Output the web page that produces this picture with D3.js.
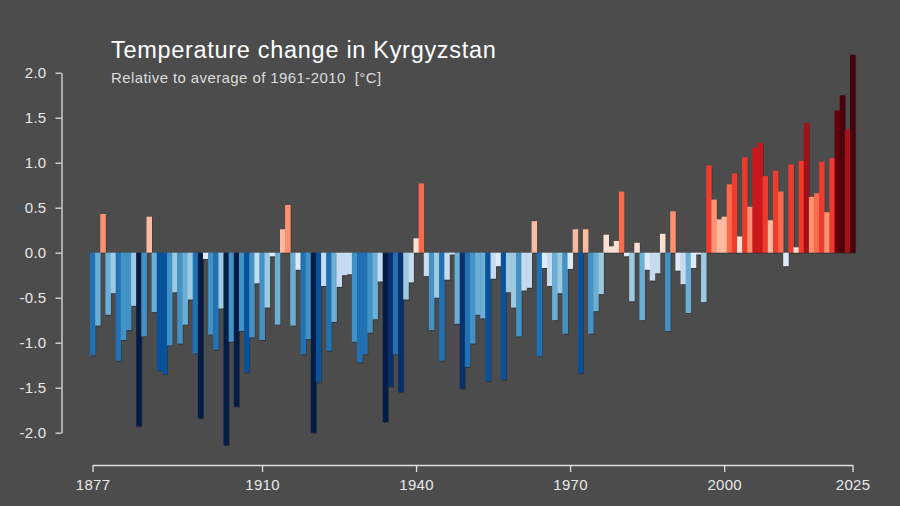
<!DOCTYPE html>
<html>
<head>
<meta charset="utf-8">
<script src="https://cdn.jsdelivr.net/npm/d3@7"></script>
<style>
    body { margin: 0; background: #4c4c4c; }
    svg { display: block; }
    .axis path, .axis line { stroke: #e0e0e0; stroke-width: 1.3; }
    .axis text { fill: #e8e8e8; font-family: "Liberation Sans", Arial, sans-serif; font-size: 15px; letter-spacing: .3px; }
</style>
</head>
<body>
<div class="panel"></div>
<script>

const title = "Temperature change in Kyrgyzstan";
const subtitle = "Relative to average of 1961-2010  [°C]";

const firstYear = 1877;
const lastYear = 2025;
const years = d3.range(firstYear, lastYear + 1);

// anomalies, one per year from 1877
const anomalies = [
    -1.14, -0.81, 0.43, -0.69, -0.45, -1.20, -0.97, -0.86, -0.59, -1.93,
    -0.93, 0.40, -0.66, -1.31, -1.35, -1.03, -0.44, -1.01, -0.80, -0.52,
    -1.12, -1.84, -0.07, -0.91, -1.08, -0.62, -2.14, -0.99, -1.71, -0.87,
    -1.33, -0.94, -0.34, -0.97, -0.61, -0.04, -0.80, 0.26, 0.53, -0.81,
    -0.19, -1.13, -0.96, -2.00, -1.44, -0.37, -1.09, -0.77, -0.38, -0.25,
    -0.24, -0.99, -1.22, -1.13, -0.89, -0.74, -0.32, -1.88, -1.49, -1.13,
    -1.55, -0.52, -0.33, 0.16, 0.77, -0.26, -0.86, -0.50, -1.20, -0.30,
    -0.02, -0.79, -1.51, -1.27, -1.01, -0.69, -0.73, -1.43, -0.29, -0.15,
    -1.41, -0.44, -0.61, -0.93, -0.42, -0.39, 0.35, -1.15, -0.17, -0.37,
    -0.75, -0.45, -0.90, -0.18, 0.26, -1.34, 0.26, -0.90, -0.65, -0.46,
    0.20, 0.07, 0.13, 0.68, -0.04, -0.54, 0.11, -0.75, -0.19, -0.31,
    -0.23, 0.21, -0.87, 0.46, -0.20, -0.35, -0.67, -0.17, -0.02, -0.55,
    0.97, 0.59, 0.37, 0.40, 0.76, 0.88, 0.18, 1.06, 0.51, 1.17,
    1.22, 0.85, 0.36, 0.91, 0.68, -0.15, 0.98, 0.06, 1.02, 1.44,
    0.62, 0.66, 1.01, 0.45, 1.05, 1.58, 1.75, 1.37, 2.20
];

const yTicks = [-2.0, -1.5, -1.0, -0.5, 0.0, 0.5, 1.0, 1.5, 2.0];
const xTicks = [1877, 1910, 1940, 1970, 2000, 2025];

const stripeColors = [
    "#041d47", "#08306b", "#08519c", "#2171b5", "#4292c6", "#6baed6", "#9ecae1", "#c6dbef", "#deebf7",
    "#fee0d2", "#fcbba1", "#fc9272", "#fb6a4a", "#ef3b2c", "#cb181d", "#a50f15", "#67000d", "#48000a"
];
const stripeBreaks = [-1.7, -1.4875, -1.275, -1.0625, -0.85, -0.6375, -0.425, -0.2125, 0,
    0.2125, 0.425, 0.6375, 0.85, 1.0625, 1.275, 1.4875, 1.7];

const dim = { width: 900, height: 506 };

const data = years.map((t, i) => ({ t: t, v: anomalies[i] }));

const svg = d3.select(".panel").append("svg")
    .attr("width", dim.width)
    .attr("height", dim.height)
    .attr("viewBox", [0, 0, dim.width, dim.height]);

svg.append("rect")
    .attr("width", dim.width)
    .attr("height", dim.height)
    .attr("fill", "#4c4c4c");

// Scales

const x = d3.scaleBand()
    .domain(years)
    .range([90, 855.1])
    .padding(0);

const xYear = d3.scaleLinear()
    .domain([firstYear, lastYear])
    .range([x(firstYear) + x.bandwidth() / 2, x(lastYear) + x.bandwidth() / 2]);

const y = d3.scaleLinear()
    .domain([-2, 2])
    .range([432.7, 72.7]);

const color = d3.scaleThreshold()
    .domain(stripeBreaks)
    .range(stripeColors);

// Bars

const bars = svg.append("g").attr("class", "bars");

bars.selectAll(".shadow")
    .data(data)
    .join("rect")
    .attr("class", "shadow")
    .attr("x", d => x(d.t) + 1)
    .attr("y", d => Math.min(y(d.v), y(0)) + 1)
    .attr("width", x.bandwidth())
    .attr("height", d => Math.abs(y(d.v) - y(0)))
    .attr("fill", "#2e2e2e")
    .attr("fill-opacity", .7);

bars.selectAll(".bar")
    .data(data)
    .join("rect")
    .attr("class", "bar")
    .attr("x", d => x(d.t))
    .attr("y", d => Math.min(y(d.v), y(0)))
    .attr("width", x.bandwidth() + .4)
    .attr("height", d => Math.abs(y(d.v) - y(0)))
    .attr("fill", d => color(d.v));

// Axes

svg.append("g")
    .attr("class", "axis")
    .attr("transform", "translate(61.5,0)")
    .call(d3.axisLeft(y)
        .tickValues(yTicks)
        .tickFormat(d => d.toFixed(1))
        .tickSize(6)
        .tickSizeOuter(0)
        .tickPadding(9));

svg.append("g")
    .attr("class", "axis")
    .attr("transform", "translate(0,465)")
    .call(d3.axisBottom(xYear)
        .tickValues(xTicks)
        .tickFormat(d => d)
        .tickSize(7)
        .tickSizeOuter(0)
        .tickPadding(7));

// Titles

svg.append("text")
    .attr("x", 111)
    .attr("y", 58)
    .attr("fill", "#ffffff")
    .style("font-family", "'Liberation Sans', Arial, sans-serif")
    .style("font-size", "23.5px")
    .style("letter-spacing", ".7px")
    .text(title);

svg.append("text")
    .attr("x", 111)
    .attr("y", 82.5)
    .attr("fill", "#dcdcdc")
    .style("font-family", "'Liberation Sans', Arial, sans-serif")
    .style("font-size", "15px")
    .style("letter-spacing", ".4px")
    .style("white-space", "pre")
    .text(subtitle);

</script>
</body>
</html>
